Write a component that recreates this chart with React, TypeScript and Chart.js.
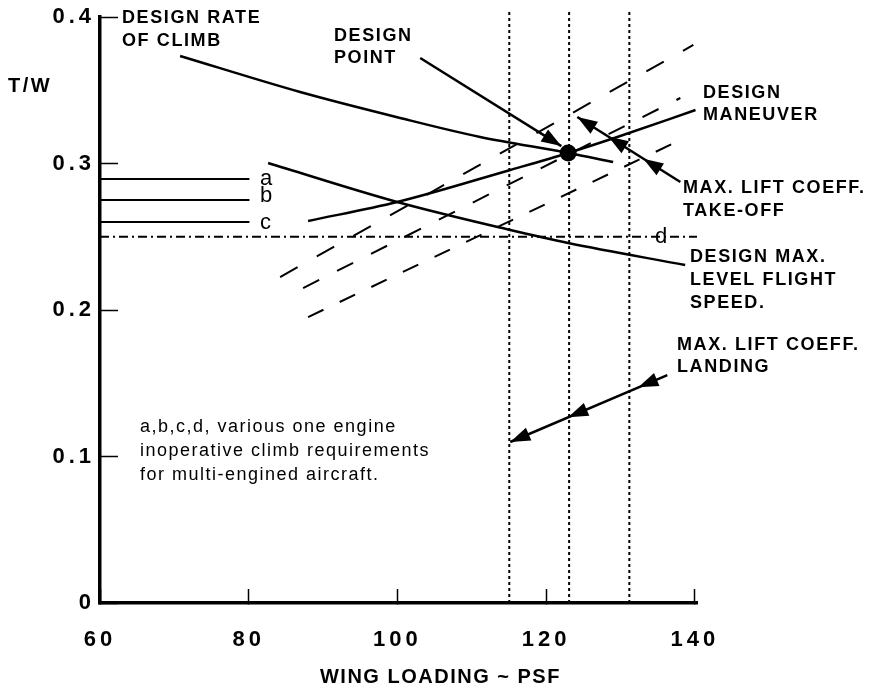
import React, { useEffect, useRef } from 'react';
import { Chart, registerables } from 'chart.js';

Chart.register(...registerables);

const FONT = '"Liberation Sans", Arial, Helvetica, sans-serif';

// ---- axis ticks ----
const xTickValues = [60, 80, 100, 120, 140];
const yTickValues = [0, 0.1, 0.2, 0.3, 0.4];

// ---- constraint curves (wing loading, T/W) ----
const rateOfClimb = [
  { x: 70.77, y: 0.3734 },
  { x: 86.92, y: 0.3488 },
  { x: 100.37, y: 0.3311 },
  { x: 111.13, y: 0.3181 },
  { x: 122.97, y: 0.3072 },
  { x: 129.02, y: 0.301 },
];
const designManeuver = [
  { x: 87.99, y: 0.2608 },
  { x: 99.97, y: 0.2737 },
  { x: 115.18, y: 0.2956 },
  { x: 122.97, y: 0.3072 },
  { x: 129.58, y: 0.3181 },
  { x: 140.1, y: 0.3365 },
];
const maxLevelSpeed = [
  { x: 82.61, y: 0.3003 },
  { x: 99.97, y: 0.2737 },
  { x: 115.18, y: 0.2546 },
  { x: 122.97, y: 0.2457 },
  { x: 138.71, y: 0.2307 },
];
const reqA = [{ x: 60, y: 0.2894 }, { x: 80.1, y: 0.2894 }];
const reqB = [{ x: 60, y: 0.2751 }, { x: 80.1, y: 0.2751 }];
const reqC = [{ x: 60, y: 0.2601 }, { x: 80.1, y: 0.2601 }];
const reqD = [{ x: 60, y: 0.25 }, { x: 140.3, y: 0.25 }];
const takeoffUpper = [{ x: 84.23, y: 0.2225 }, { x: 139.81, y: 0.3809 }];
const takeoffMiddle = [{ x: 87.32, y: 0.215 }, { x: 138.06, y: 0.3447 }];
const takeoffLower = [{ x: 87.99, y: 0.1952 }, { x: 138.06, y: 0.316 }];
const landingLimits = [115.05, 123.1, 131.2];
const landingLimitTop = 0.405;
const designPoint = [{ x: 122.97, y: 0.3072 }];

// ---- arrows ----
const designPointArrow = [{ x: 103.07, y: 0.372 }, { x: 122.05, y: 0.3119 }];
const takeoffArrow = [{ x: 138.06, y: 0.2874 }, { x: 124.2, y: 0.3317 }];
const takeoffArrowTips = [
  { x: 124.2, y: 0.3317 },
  { x: 128.37, y: 0.3184 },
  { x: 133.08, y: 0.3033 },
];
const landingArrow = [{ x: 136.31, y: 0.1556 }, { x: 115.18, y: 0.1099 }];
const landingArrowTips = [
  { x: 115.18, y: 0.1099 },
  { x: 122.97, y: 0.1268 },
  { x: 132.41, y: 0.1472 },
];

// ---- text ----
const textLabels = [
  { text: 'DESIGN RATE', x: 62.96, y: 0.3959, style: 'label' },
  { text: 'OF CLIMB', x: 62.96, y: 0.3802, style: 'label' },
  { text: 'DESIGN', x: 91.47, y: 0.3836, style: 'label' },
  { text: 'POINT', x: 91.47, y: 0.3686, style: 'label' },
  { text: 'DESIGN', x: 141.1, y: 0.3447, style: 'label' },
  { text: 'MANEUVER', x: 141.1, y: 0.3297, style: 'label' },
  { text: 'MAX. LIFT COEFF.', x: 138.41, y: 0.2799, style: 'label' },
  { text: 'TAKE-OFF', x: 138.41, y: 0.2642, style: 'label' },
  { text: 'DESIGN MAX.', x: 139.35, y: 0.2328, style: 'label' },
  { text: 'LEVEL FLIGHT', x: 139.35, y: 0.2171, style: 'label' },
  { text: 'SPEED.', x: 139.35, y: 0.2014, style: 'label' },
  { text: 'MAX. LIFT COEFF.', x: 137.61, y: 0.1727, style: 'label' },
  { text: 'LANDING', x: 137.61, y: 0.1577, style: 'label' },
  { text: 'T/W', x: 47.63, y: 0.3488, style: 'yTitle' },
  { text: 'WING LOADING ~ PSF', x: 89.59, y: -0.0546, style: 'xTitle' },
  { text: 'a,b,c,d, various one engine', x: 65.38, y: 0.1167, style: 'note' },
  { text: 'inoperative climb requirements', x: 65.38, y: 0.1003, style: 'note' },
  { text: 'for multi-engined aircraft.', x: 65.38, y: 0.084, style: 'note' },
  { text: 'a', x: 81.52, y: 0.2853, style: 'letter' },
  { text: 'b', x: 81.52, y: 0.2737, style: 'letter' },
  { text: 'c', x: 81.52, y: 0.2553, style: 'letter' },
  { text: 'd', x: 134.65, y: 0.2457, style: 'letter' },
];

const textStyles: Record<string, { font: string; spacing: string }> = {
  label: { font: `bold 18px ${FONT}`, spacing: '1.6px' },
  xTitle: { font: `bold 20px ${FONT}`, spacing: '1.5px' },
  yTitle: { font: `bold 20px ${FONT}`, spacing: '2.5px' },
  note: { font: `18px ${FONT}`, spacing: '1.5px' },
  letter: { font: `22px ${FONT}`, spacing: '0px' },
};

const arrows = [
  { line: designPointArrow, tips: [designPointArrow[1]] },
  { line: takeoffArrow, tips: takeoffArrowTips },
  { line: landingArrow, tips: landingArrowTips },
];

const lineStyle = {
  showLine: true,
  borderColor: '#000',
  backgroundColor: '#000',
  borderWidth: 2.5,
  pointRadius: 0,
  fill: false,
};

const annotationPlugin = {
  id: 'annotations',
  beforeDraw(chart: any) {
    chart.ctx.letterSpacing = '4px';
  },
  beforeDatasetsDraw(chart: any) {
    chart.ctx.letterSpacing = '0px';
  },
  afterDatasetsDraw(chart: any) {
    const { ctx } = chart;
    const xs = chart.scales.x;
    const ys = chart.scales.y;
    ctx.save();
    ctx.fillStyle = '#000';
    // arrowheads
    const len = 20;
    const hw = 7;
    arrows.forEach((a) => {
      const fx = xs.getPixelForValue(a.line[0].x);
      const fy = ys.getPixelForValue(a.line[0].y);
      const ex = xs.getPixelForValue(a.line[1].x);
      const ey = ys.getPixelForValue(a.line[1].y);
      const d = Math.hypot(ex - fx, ey - fy);
      const ux = (ex - fx) / d;
      const uy = (ey - fy) / d;
      a.tips.forEach((t) => {
        const tx = xs.getPixelForValue(t.x);
        const ty = ys.getPixelForValue(t.y);
        const bx = tx - ux * len;
        const by = ty - uy * len;
        ctx.beginPath();
        ctx.moveTo(tx, ty);
        ctx.lineTo(bx - uy * hw, by + ux * hw);
        ctx.lineTo(bx + uy * hw, by - ux * hw);
        ctx.closePath();
        ctx.fill();
      });
    });
    // text
    ctx.textAlign = 'left';
    ctx.textBaseline = 'alphabetic';
    textLabels.forEach((l) => {
      const st = textStyles[l.style];
      ctx.font = st.font;
      ctx.letterSpacing = st.spacing;
      ctx.fillText(l.text, xs.getPixelForValue(l.x), ys.getPixelForValue(l.y));
    });
    ctx.letterSpacing = '0px';
    ctx.restore();
  },
};

function zeroPadding(s: any) {
  s.paddingTop = 0;
  s.paddingBottom = 0;
  s.paddingLeft = 0;
  s.paddingRight = 0;
}

export default function App() {
  const canvasRef = useRef<HTMLCanvasElement | null>(null);

  useEffect(() => {
    if (!canvasRef.current) return;
    Chart.defaults.font.family = FONT;
    const datasets: any[] = [
      {
        ...lineStyle,
        showLine: false,
        data: designPoint,
        pointRadius: 8.5,
        pointBackgroundColor: '#000',
        pointBorderWidth: 0,
        order: -1,
      },
      { ...lineStyle, data: rateOfClimb, cubicInterpolationMode: 'monotone' },
      { ...lineStyle, data: designManeuver, cubicInterpolationMode: 'monotone' },
      { ...lineStyle, data: maxLevelSpeed, cubicInterpolationMode: 'monotone' },
      { ...lineStyle, data: reqA, borderWidth: 2 },
      { ...lineStyle, data: reqB, borderWidth: 2 },
      { ...lineStyle, data: reqC, borderWidth: 2 },
      { ...lineStyle, data: reqD, borderWidth: 2, borderDash: [9, 4, 2, 4] },
      { ...lineStyle, data: takeoffUpper, borderWidth: 2, borderDash: [20, 22] },
      { ...lineStyle, data: takeoffMiddle, borderWidth: 2, borderDash: [18, 20] },
      { ...lineStyle, data: takeoffLower, borderWidth: 2, borderDash: [17, 18] },
      ...landingLimits.map((v) => ({
        ...lineStyle,
        data: [{ x: v, y: 0 }, { x: v, y: landingLimitTop }],
        borderWidth: 2,
        borderDash: [3, 3],
        clip: false,
      })),
      { ...lineStyle, data: designPointArrow },
      { ...lineStyle, data: takeoffArrow },
      { ...lineStyle, data: landingArrow },
    ];

    const chart = new Chart(canvasRef.current, {
      type: 'scatter',
      data: { datasets },
      options: {
        responsive: false,
        animation: false,
        events: [],
        layout: { padding: { left: 0, right: 181, top: 17, bottom: 0 } },
        plugins: { legend: { display: false }, tooltip: { enabled: false } },
        scales: {
          x: {
            type: 'linear',
            min: 60,
            max: 140.3,
            afterFit: (s: any) => {
              s.height = 87;
              zeroPadding(s);
            },
            afterBuildTicks: (s: any) => {
              s.ticks = xTickValues.map((v) => ({ value: v }));
            },
            border: { display: true, color: '#000', width: 3.5 },
            grid: {
              display: true,
              drawOnChartArea: false,
              drawTicks: true,
              tickLength: -14,
              tickColor: '#000',
              tickWidth: 1.5,
            },
            ticks: {
              color: '#000',
              padding: 38,
              maxRotation: 0,
              font: { size: 22, weight: 'bold', family: FONT },
            },
          },
          y: {
            type: 'linear',
            min: 0,
            max: 0.4,
            afterFit: (s: any) => {
              s.width = 100;
              zeroPadding(s);
            },
            afterBuildTicks: (s: any) => {
              s.ticks = yTickValues.map((v) => ({ value: v }));
            },
            border: { display: true, color: '#000', width: 3.5 },
            grid: {
              display: true,
              drawOnChartArea: false,
              drawTicks: true,
              tickLength: -18,
              tickColor: '#000',
              tickWidth: 1.5,
            },
            ticks: {
              color: '#000',
              padding: 23,
              font: { size: 22, weight: 'bold', family: FONT },
              callback: (v: any) => (v === 0 ? '0' : Number(v).toFixed(1)),
            },
          },
        },
      },
      plugins: [annotationPlugin],
    } as any);

    return () => chart.destroy();
  }, []);

  return (
    <div style={{ position: 'absolute', left: 0, top: 0, width: 878, height: 690 }}>
      <canvas ref={canvasRef} width={878} height={690} style={{ display: 'block' }} />
    </div>
  );
}
